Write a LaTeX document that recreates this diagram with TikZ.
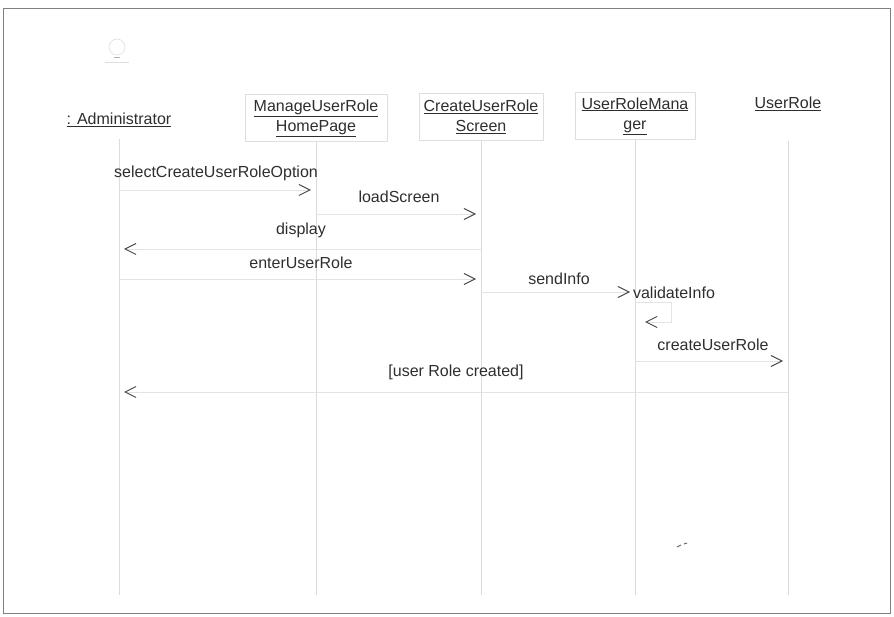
\documentclass[tikz,border=0pt]{standalone}
\usepackage{fontspec}
\setmainfont{Liberation Sans}
\usetikzlibrary{arrows.meta}
\begin{document}
\begin{tikzpicture}[x=1pt,y=-1pt,
  txt/.style={font=\fontsize{16}{20}\selectfont, text=black!82, inner sep=0pt},
  hdr/.style={txt, align=center},
  objbox/.style={draw=black!13, line width=0.6pt, minimum width=#1, minimum height=47pt},
  lifeline/.style={draw=black!14, line width=0.7pt},
  msg/.style={draw=black!11, line width=0.9pt, shorten >=5pt,
    -{Straight Barb[length=11pt,width=11pt,color=black!72,line width=1pt]}},
  faint/.style={draw=black!13, line width=0.6pt}
]
\useasboundingbox (0,0) rectangle (894,617);
% frame
\draw[black!50, line width=1pt] (3,9) rectangle (890,613);

% actor icon (faded)
\draw[faint] (117,47) circle (8);
\draw[faint] (105,62) -- (129,62);
\draw[black!30, line width=0.8pt] (114,57) -- (120,57);

% object headers
\node[txt] (admin) at (119,120) {\underline{: Administrator}};
\node[hdr, objbox=142pt] (mgr) at (316,118) {\underline{ManageUserRole}\\\underline{HomePage}};
\node[hdr, objbox=124pt] (scr) at (481,117) {\underline{CreateUserRole}\\\underline{Screen}};
\node[hdr, objbox=120pt] (urm) at (635,116) {\underline{UserRoleMana}\\\underline{ger}};
\node[txt] (ur) at (788,104) {\underline{UserRole}};

% lifeline ends
\coordinate (adminEnd) at (admin |- 0,595);
\coordinate (mgrEnd) at (mgr |- 0,595);
\coordinate (scrEnd) at (scr |- 0,595);
\coordinate (urmEnd) at (urm |- 0,595);
\coordinate (urEnd) at (ur |- 0,595);

\draw[lifeline] ([yshift=-12pt]admin.south) -- (adminEnd);
\draw[lifeline] (mgr.south) -- (mgrEnd);
\draw[lifeline] (scr.south) -- (scrEnd);
\draw[lifeline] (urm.south) -- (urmEnd);
\draw[lifeline] ([yshift=-30pt]ur.south) -- (urEnd);

% messages
\draw[msg] (admin |- 0,190) -- (mgr |- 0,190);
\node[txt] (l1) at (216,173) {selectCreateUserRoleOption};

\draw[msg] (mgr |- 0,214) -- (scr |- 0,214);
\node[txt] (l2) at (399,197) {loadScreen};

\draw[msg] (scr |- 0,249) -- (admin |- 0,249);
\node[txt] (l3) at (301,230) {display};

\draw[msg] (admin |- 0,279) -- (scr |- 0,279);
\node[txt] (l4) at (301,263) {enterUserRole};

\draw[msg] (scr |- 0,292) -- (urm |- 0,292);
\node[txt] (l5) at (559,279) {sendInfo};

\coordinate (selfA) at ([xshift=36pt]urm |- 0,302);
\coordinate (selfB) at ([xshift=36pt]urm |- 0,322);
\coordinate (selfEnd) at ([xshift=5pt]urm |- 0,322);
\draw[msg] (urm |- 0,302) -- (selfA) -- (selfB) -- (selfEnd);
\node[txt] (l6) at (674,293) {validateInfo};

\draw[msg] (urm |- 0,361) -- (ur |- 0,361);
\node[txt] (l7) at (713,345) {createUserRole};

\draw[msg] (ur |- 0,392) -- (admin |- 0,392);
\node[txt] (l8) at (456,372) {[user Role created]};

% stray scan mark
\draw[black!60, line width=1pt] (677,547) -- (681,545) (684,544) -- (687,543);
\end{tikzpicture}
\end{document}
